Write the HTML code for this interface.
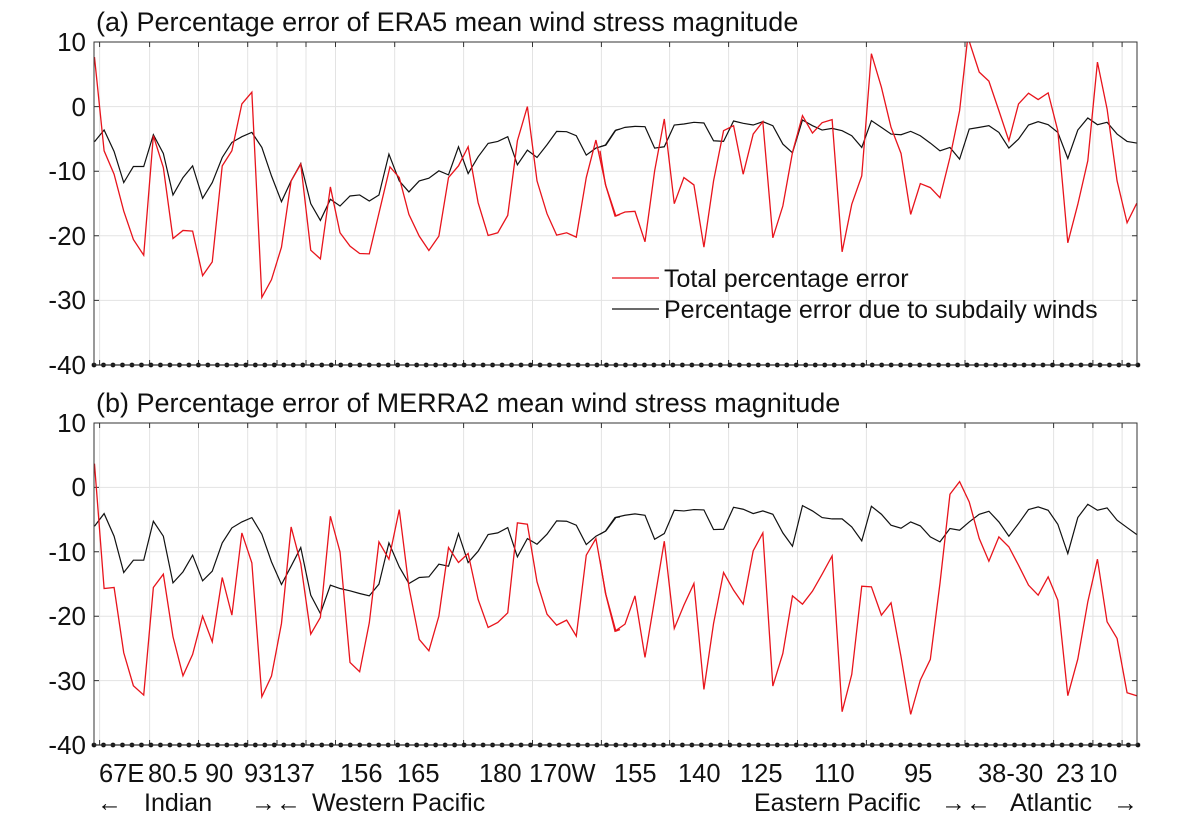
<!DOCTYPE html>
<html><head><meta charset="utf-8"><style>
body{margin:0;background:#fff;}
svg{display:block;font-family:"Liberation Sans",Arial,sans-serif;}
.g{stroke:#e3e3e3;stroke-width:1;fill:none}
.r{stroke:#e8141c;stroke-width:1.3;fill:none}
.k{stroke:#111;stroke-width:1.2;fill:none}
text{fill:#111}
</style></head><body>
<svg width="1184" height="828" viewBox="0 0 1184 828" xmlns="http://www.w3.org/2000/svg">
<defs>
<pattern id="dots" x="89.25" y="0" width="9.49" height="828" patternUnits="userSpaceOnUse"><circle cx="4.75" cy="365" r="2.4" fill="#111"/><circle cx="4.75" cy="745" r="2.4" fill="#111"/></pattern>
</defs>
<g class="g">
<line x1="94" x2="1137" y1="106.6" y2="106.6"/><line x1="94" x2="1137" y1="171.2" y2="171.2"/><line x1="94" x2="1137" y1="235.8" y2="235.8"/><line x1="94" x2="1137" y1="300.4" y2="300.4"/>
<line x1="94" x2="1137" y1="487.4" y2="487.4"/><line x1="94" x2="1137" y1="551.8" y2="551.8"/><line x1="94" x2="1137" y1="616.2" y2="616.2"/><line x1="94" x2="1137" y1="680.6" y2="680.6"/>
<path d="M99.6 42V365M149.6 42V365M198.5 42V365M247.7 42V365M277 42V365M306 42V365M335.5 42V365M394.7 42V365M463.6 42V365M532.5 42V365M601.4 42V365M669.6 42V365M728.6 42V365M797.5 42V365M866.4 42V365M965 42V365M1053.6 42V365M1092.9 42V365M1122.1 42V365"/>
<path d="M99.6 423V745M149.6 423V745M198.5 423V745M247.7 423V745M277 423V745M306 423V745M335.5 423V745M394.7 423V745M463.6 423V745M532.5 423V745M601.4 423V745M669.6 423V745M728.6 423V745M797.5 423V745M866.4 423V745M965 423V745M1053.6 423V745M1092.9 423V745M1122.1 423V745"/>
</g>
<g stroke="#333" stroke-width="1">
<path d="M99.6 42v5M149.6 42v5M198.5 42v5M247.7 42v5M277 42v5M306 42v5M335.5 42v5M394.7 42v5M463.6 42v5M532.5 42v5M601.4 42v5M669.6 42v5M728.6 42v5M797.5 42v5M866.4 42v5M965 42v5M1053.6 42v5M1092.9 42v5M1122.1 42v5"/>
<path d="M99.6 365v-5M149.6 365v-5M198.5 365v-5M247.7 365v-5M277 365v-5M306 365v-5M335.5 365v-5M394.7 365v-5M463.6 365v-5M532.5 365v-5M601.4 365v-5M669.6 365v-5M728.6 365v-5M797.5 365v-5M866.4 365v-5M965 365v-5M1053.6 365v-5M1092.9 365v-5M1122.1 365v-5"/>
<path d="M99.6 423v5M149.6 423v5M198.5 423v5M247.7 423v5M277 423v5M306 423v5M335.5 423v5M394.7 423v5M463.6 423v5M532.5 423v5M601.4 423v5M669.6 423v5M728.6 423v5M797.5 423v5M866.4 423v5M965 423v5M1053.6 423v5M1092.9 423v5M1122.1 423v5"/>
<path d="M99.6 745v-5M149.6 745v-5M198.5 745v-5M247.7 745v-5M277 745v-5M306 745v-5M335.5 745v-5M394.7 745v-5M463.6 745v-5M532.5 745v-5M601.4 745v-5M669.6 745v-5M728.6 745v-5M797.5 745v-5M866.4 745v-5M965 745v-5M1053.6 745v-5M1092.9 745v-5M1122.1 745v-5"/>
<path d="M94 106.6h5M94 171.2h5M94 235.8h5M94 300.4h5M1137 106.6h-5M1137 171.2h-5M1137 235.8h-5M1137 300.4h-5"/>
<path d="M94 487.4h5M94 551.8h5M94 616.2h5M94 680.6h5M1137 487.4h-5M1137 551.8h-5M1137 616.2h-5M1137 680.6h-5"/>
</g>
<clipPath id="ca"><rect x="94" y="42" width="1043" height="323"/></clipPath>
<clipPath id="cb"><rect x="94" y="423" width="1043" height="322"/></clipPath>
<g clip-path="url(#ca)">
<g transform="matrix(0.3444 0 0 0.3347 80 30.29)">
<polyline vector-effect="non-scaling-stroke" class="k" points="42,333 70,298 99,362 127,455 155,407 185,407 213,312 242,368 270,492 299,440 327,405 356,502 384,455 413,380 441,335 470,318 499,305 528,350 556,435 585,512 613,450 641,398 670,518 698,568 727,505 755,525 784,495 812,492 840,510 868,492 897,370 927,450 955,483 985,450 1013,442 1042,420 1070,432 1099,348 1127,428 1156,378 1185,338 1213,332 1242,318 1270,402 1299,358 1327,380 1356,342 1384,302 1413,303 1441,315 1470,373 1498,352 1527,343 1556,298 1568,295"/>
<polyline vector-effect="non-scaling-stroke" class="r" points="42,80 70,360 99,430 127,540 155,625 185,672 213,315 242,410 270,622 299,598 327,600 356,733 384,692 413,405 441,360 470,220 499,185 528,798 556,745 585,648 613,450 641,400 670,657 698,683 727,468 755,605 784,645 812,667 840,668 900,408 927,440 955,550 985,615 1013,658 1042,615 1070,440 1099,405 1127,348 1156,515 1185,613 1213,605 1242,553 1270,330 1299,228 1327,450 1356,548 1384,612 1413,605 1441,618 1470,440 1498,328 1527,465 1556,555 1568,550"/>
</g>
<g transform="matrix(0.3571 0 0 0.3347 600 30.29)">
<polyline vector-effect="non-scaling-stroke" class="k" points="0,348 15,343 42,300 70,290 98,287 126,288 153,352 180,348 208,283 235,280 263,275 291,277 318,330 346,332 374,271 401,278 429,283 456,273 484,285 512,340 539,366 567,268 595,285 622,298 650,293 678,300 705,315 733,350 760,270 788,290 815,310 843,312 870,302 897,315 925,337 952,360 980,350 1007,385 1034,295 1062,290 1089,285 1117,305 1145,352 1172,325 1200,283 1227,273 1255,282 1282,305 1310,383 1338,298 1366,262 1393,282 1420,275 1448,310 1476,332 1503,337"/>
<polyline vector-effect="non-scaling-stroke" class="r" points="0,360 15,460 42,555 70,543 98,541 126,632 153,420 180,265 208,518 235,440 263,462 291,648 318,450 346,300 374,285 401,430 429,310 456,273 484,620 512,525 539,365 567,255 595,307 622,276 650,267 678,662 705,520 733,435 760,70 788,170 815,290 843,368 870,550 897,458 925,470 952,500 980,380 1007,240 1030,20 1062,125 1089,152 1117,240 1145,330 1172,220 1200,188 1227,207 1255,187 1282,300 1310,635 1338,520 1366,390 1393,95 1420,235 1448,450 1476,575 1503,517"/>
</g>
</g>
<g clip-path="url(#cb)">
<g transform="matrix(0.3444 0 0 0.333 80 410.35)">
<polyline vector-effect="non-scaling-stroke" class="k" points="42,348 70,310 99,378 127,487 155,450 185,450 213,333 242,378 270,518 299,485 327,435 356,512 384,483 413,398 441,353 470,335 499,322 528,372 556,455 585,523 613,468 641,412 670,555 698,610 727,525 755,535 784,542 812,550 840,557 868,522 897,398 927,470 955,520 985,502 1013,500 1042,462 1070,468 1099,370 1127,457 1156,423 1185,373 1213,368 1242,352 1270,440 1299,385 1327,402 1356,372 1384,332 1413,333 1441,345 1470,403 1498,378 1527,362 1556,322 1568,320"/>
<polyline vector-effect="non-scaling-stroke" class="r" points="42,160 70,535 99,532 127,728 155,827 185,855 213,532 242,492 270,680 299,797 327,733 356,618 384,695 413,502 441,615 470,368 499,458 528,860 556,798 585,640 613,350 641,460 670,672 698,622 727,318 755,425 784,757 812,785 840,638 868,395 897,447 927,298 955,530 985,688 1013,722 1042,618 1070,412 1099,457 1127,430 1156,568 1185,652 1213,637 1242,608 1270,338 1299,342 1327,515 1356,612 1384,645 1413,630 1441,678 1470,435 1498,385 1527,553 1556,663 1568,658"/>
</g>
<g transform="matrix(0.3571 0 0 0.333 600 410.35)">
<polyline vector-effect="non-scaling-stroke" class="k" points="0,372 15,363 42,322 70,315 98,311 126,315 153,387 180,370 208,300 235,302 263,298 291,299 318,358 346,357 374,291 401,297 429,310 456,302 484,312 512,368 539,408 567,286 595,302 622,322 650,326 678,326 705,350 733,392 760,288 788,312 815,345 843,354 870,335 897,347 925,380 952,395 980,355 1007,360 1034,335 1062,312 1089,303 1117,335 1145,378 1172,340 1200,298 1227,290 1255,300 1282,342 1310,430 1338,322 1366,282 1393,300 1420,293 1448,330 1476,352 1503,373"/>
<polyline vector-effect="non-scaling-stroke" class="r" points="0,450 15,548 42,663 70,642 98,557 126,742 153,568 180,393 208,655 235,585 263,520 291,838 318,640 346,487 374,540 401,582 429,422 456,368 484,828 512,730 539,557 567,582 595,543 622,492 650,437 678,905 705,793 733,528 760,530 788,615 815,578 843,740 870,913 897,810 925,748 952,520 980,252 1007,214 1034,275 1062,385 1089,453 1117,380 1145,410 1172,465 1200,525 1227,555 1255,500 1282,570 1310,857 1338,747 1366,575 1393,447 1420,635 1448,685 1476,848 1503,857"/>
</g>
</g>
<line x1="94" x2="1137" y1="365" y2="365" stroke="#111" stroke-width="1.3"/>
<line x1="94" x2="1137" y1="745" y2="745" stroke="#111" stroke-width="1.3"/>
<rect x="90" y="360" width="1051" height="10" fill="url(#dots)"/>
<rect x="90" y="740" width="1051" height="10" fill="url(#dots)"/>
<rect x="94" y="42" width="1043" height="323" fill="none" stroke="#333" stroke-width="1"/>
<rect x="94" y="423" width="1043" height="322" fill="none" stroke="#333" stroke-width="1"/>
<g font-size="26" text-anchor="end">
<text x="86" y="51">10</text><text x="86" y="116">0</text><text x="86" y="180">-10</text><text x="86" y="245">-20</text><text x="86" y="309">-30</text><text x="86" y="374">-40</text>
<text x="86" y="432">10</text><text x="86" y="496">0</text><text x="86" y="561">-10</text><text x="86" y="625">-20</text><text x="86" y="690">-30</text><text x="86" y="754">-40</text>
</g>
<text x="96" y="31" font-size="27">(a) Percentage error of ERA5 mean wind stress magnitude</text>
<text x="96" y="412" font-size="27">(b) Percentage error of MERRA2 mean wind stress magnitude</text>
<line x1="612" x2="659" y1="278" y2="278" stroke="#e8141c" stroke-width="1.3"/>
<line x1="612" x2="659" y1="309" y2="309" stroke="#111" stroke-width="1.2"/>
<text x="664" y="287" font-size="25">Total percentage error</text>
<text x="664" y="318" font-size="25">Percentage error due to subdaily winds</text>
<g font-size="25.5">
<text x="99" y="782">67E</text><text x="148" y="782">80.5</text><text x="205" y="782">90</text><text x="244" y="782">93137</text>
<text x="340" y="782">156</text><text x="397" y="782">165</text><text x="479" y="782">180</text><text x="529" y="782">170W</text>
<text x="614" y="782">155</text><text x="678" y="782">140</text><text x="740" y="782">125</text><text x="814" y="782">110</text>
<text x="904" y="782">95</text><text x="978" y="782">38-30</text><text x="1056" y="782">23</text><text x="1089" y="782">10</text>
</g>
<g font-size="25">
<text x="97" y="811">←</text><text x="144" y="811">Indian</text><text x="251" y="811">→←</text><text x="312" y="811">Western Pacific</text>
<text x="754" y="811">Eastern Pacific</text><text x="941" y="811">→←</text><text x="1010" y="811">Atlantic</text><text x="1113" y="811">→</text>
</g>
</svg>
</body></html>
